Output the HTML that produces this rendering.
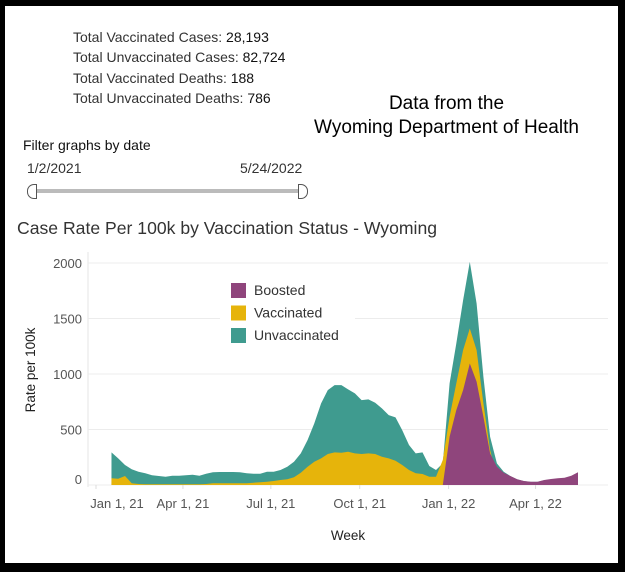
<!DOCTYPE html>
<html><head><meta charset="utf-8"><style>
body{margin:0;width:625px;height:572px;background:#000;overflow:hidden;font-family:"Liberation Sans",sans-serif;}
#frame{position:absolute;left:5px;top:6px;width:613px;height:557px;background:#fff;}
.t{position:absolute;white-space:nowrap;color:#333;}
</style></head><body>
<div id="frame"></div>
<div class="t" style="left:73px;top:29px;font-size:14px;">Total Vaccinated Cases: <span style="color:#111">28,193</span></div>
<div class="t" style="left:73px;top:49px;font-size:14px;">Total Unvaccinated Cases: <span style="color:#111">82,724</span></div>
<div class="t" style="left:73px;top:70px;font-size:14px;">Total Vaccinated Deaths: <span style="color:#111">188</span></div>
<div class="t" style="left:73px;top:90px;font-size:14px;">Total Unvaccinated Deaths: <span style="color:#111">786</span></div>
<div class="t" style="left:300px;width:293px;top:92px;font-size:19px;color:#000;text-align:center;line-height:24px;">Data from the<br>Wyoming Department of Health</div>
<div class="t" style="left:23px;top:137px;font-size:14px;color:#111;">Filter graphs by date</div>
<div class="t" style="left:27px;top:160px;font-size:14px;">1/2/2021</div>
<div class="t" style="left:240px;top:160px;font-size:14px;">5/24/2022</div>
<div style="position:absolute;left:33px;top:189px;width:270px;height:4px;background:#bbb;"></div>
<div style="position:absolute;left:27px;top:184px;width:8px;height:13px;border:1px solid #555;border-radius:7px 0 0 7px;background:#fff;"></div>
<div style="position:absolute;left:298px;top:184px;width:8px;height:13px;border:1px solid #555;border-radius:0 7px 7px 0;background:#fff;"></div>
<div class="t" style="left:17px;top:218px;font-size:17.6px;">Case Rate Per 100k by Vaccination Status - Wyoming</div>
<svg id="chart" width="625" height="572" style="position:absolute;left:0;top:0"></svg>
<script>
const unvaccinated=[294,240,180,141,120,105,87,81,75,84,84,87,93,84,102,114,117,117,117,114,105,102,102,120,120,135,165,210,285,405,555,735,855,900,900,861,825,765,771,741,690,630,609,495,360,285,294,171,135,195,915,1275,1665,2010,1635,975,435,195,120,80,50,35,28,28,42,50,56,62,80,110];
const vaccinated=[60,57,81,15,9,6,6,6,6,6,6,6,6,6,9,15,15,15,15,15,15,21,24,30,36,45,51,69,111,165,210,240,279,294,291,300,285,279,285,279,255,240,219,180,135,105,99,75,75,225,615,915,1215,1410,1215,735,315,75,30,10,5,5,5,5,5,5,5,5,5,5];
const boosted=[0,0,0,0,0,0,0,0,0,0,0,0,0,0,0,0,0,0,0,0,0,0,0,0,0,0,0,0,0,0,0,0,0,0,0,0,0,0,0,0,0,0,0,0,0,0,0,0,0,0,435,675,855,1095,930,615,285,165,111,81,51,36,30,30,45,54,60,66,84,114];
const yTicks=[0,500,1000,1500,2000];
const xTickLabels=["Jan 1, 21","Apr 1, 21","Jul 1, 21","Oct 1, 21","Jan 1, 22","Apr 1, 22"];
const xTickDays=[0,90,181,273,365,455];
const firstWeekDay=16;
const legendLabels=["Boosted","Vaccinated","Unvaccinated"];

const NS="http://www.w3.org/2000/svg";
const svg=document.getElementById('chart');
const x0=96,pxPerDay=0.966,yBase=485,pxPerUnit=0.111;
const xDay=d=>x0+d*pxPerDay;
const xIdx=i=>xDay(firstWeekDay+i*7);
const y=v=>yBase-v*pxPerUnit;
function mk(tag,attrs){const e=document.createElementNS(NS,tag);for(const k in attrs)e.setAttribute(k,attrs[k]);svg.appendChild(e);return e;}
let ax=mk('line',{x1:88,x2:88,y1:252,y2:487,stroke:'#e4e4e4'});


yTicks.forEach(v=>{
  const g=mk('line',{x1:88,x2:608,y1:y(v),y2:y(v),stroke:'#ececec','stroke-width':1});
  
  
  const t=mk('text',{x:82,y:(v===0?y(v)-6:y(v))+5,'text-anchor':'end','font-size':13,fill:'#555','font-family':'Liberation Sans, sans-serif'});
  t.textContent=v;
  
  
});
function area(vals,color,name){
  let d='M'+xIdx(0)+','+yBase;
  vals.forEach((v,i)=>{d+=' L'+xIdx(i).toFixed(1)+','+y(v).toFixed(1);});
  d+=' L'+xIdx(vals.length-1).toFixed(1)+','+yBase+' Z';
  const p=mk('path',{d:d,fill:color});
  
  
}
area(unvaccinated,'#3f9b8f','unvaccinated-area');
area(vaccinated,'#e6b40b','vaccinated-area');
area(boosted,'#8f457c','boosted-area');
xTickDays.forEach((d,i)=>{
  const tk=mk('line',{x1:xDay(d),x2:xDay(d),y1:485,y2:489,stroke:'#ddd'});
  
  
  const t=mk('text',{x:xDay(d)+(i===0?21:0),y:508,'text-anchor':'middle','font-size':13,fill:'#555','font-family':'Liberation Sans, sans-serif'});
  t.textContent=xTickLabels[i];
  
  
});
let xt=mk('text',{x:348,y:540,'text-anchor':'middle','font-size':13.5,fill:'#222','font-family':'Liberation Sans, sans-serif'});
xt.textContent='Week';


let yt=mk('text',{x:0,y:0,transform:'translate(35,370) rotate(-90)','text-anchor':'middle','font-size':13.5,fill:'#222','font-family':'Liberation Sans, sans-serif'});
yt.textContent='Rate per 100k';


let lb=mk('rect',{x:220,y:276,width:135,height:72,fill:'#fff'});


const lc=['#8f457c','#e6b40b','#3f9b8f'];
legendLabels.forEach((l,i)=>{
  const r=mk('rect',{x:231,y:283+i*22.5,width:15,height:15,fill:lc[i]});
  
  
  const t=mk('text',{x:254,y:295+i*22.5,'font-size':14,fill:'#333','font-family':'Liberation Sans, sans-serif'});
  t.textContent=l;
  
  
});
</script>
</body></html>
